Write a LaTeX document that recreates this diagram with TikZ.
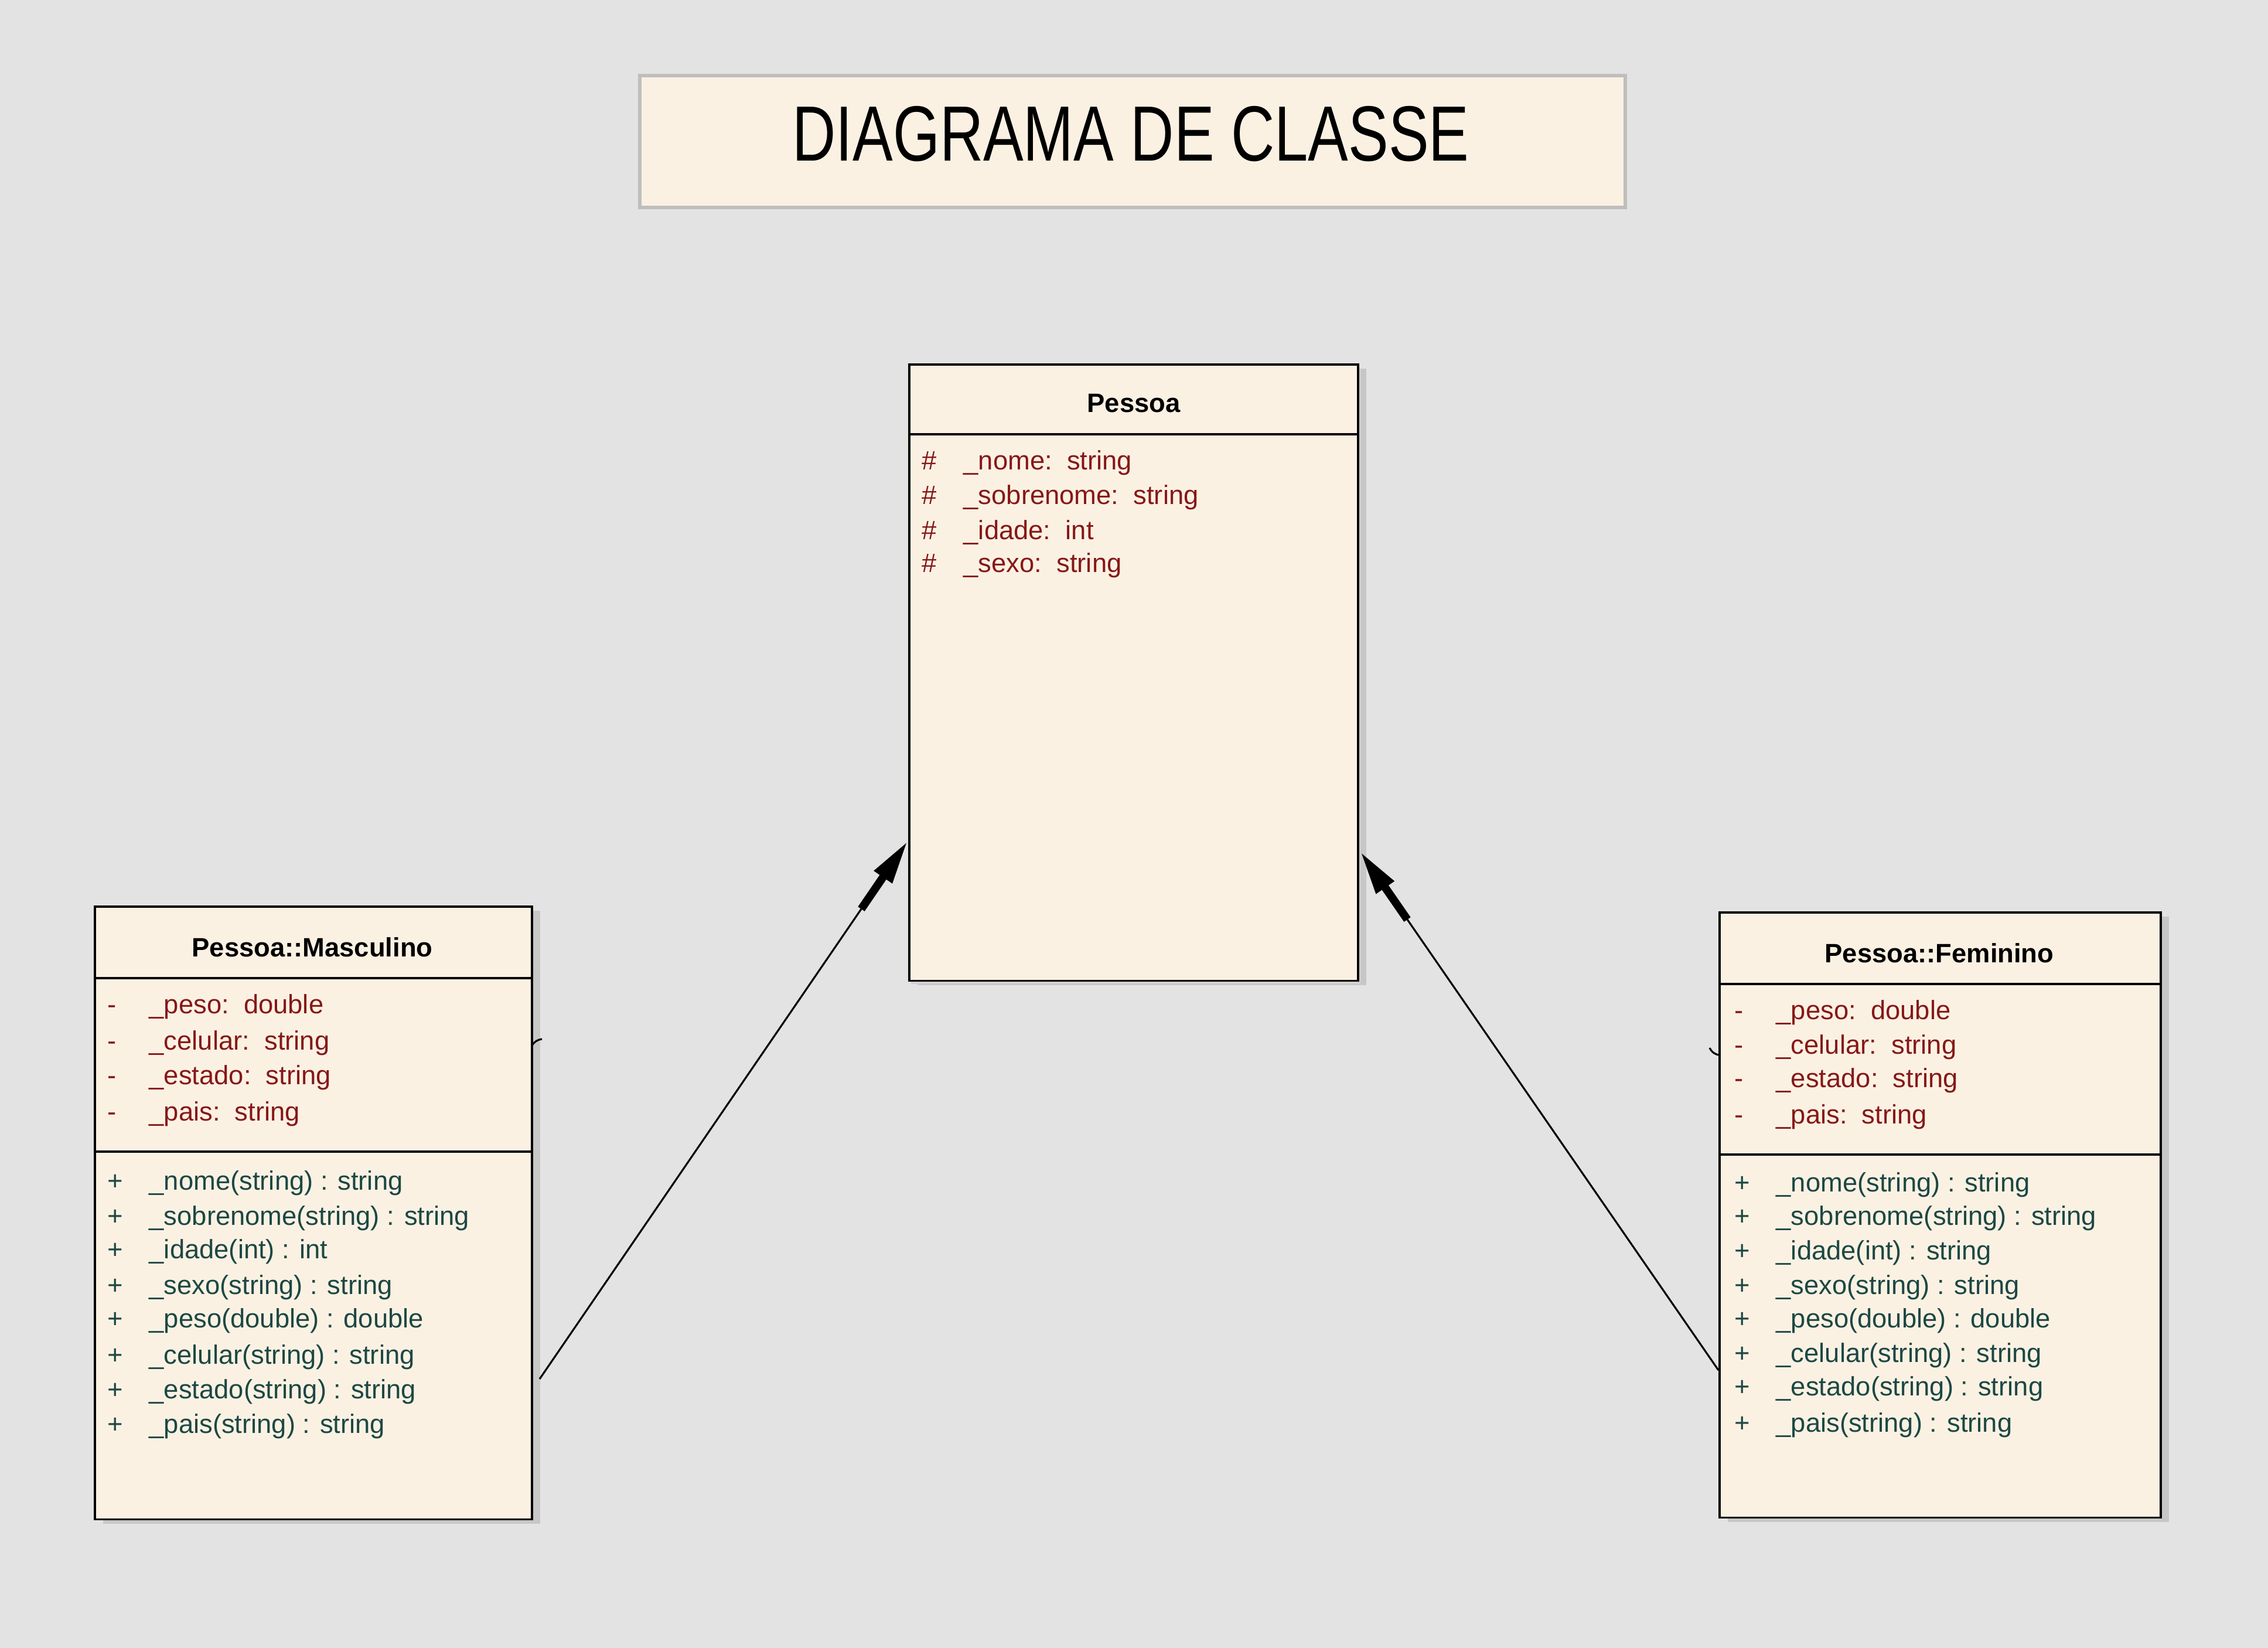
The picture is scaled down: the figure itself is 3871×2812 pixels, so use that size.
\documentclass[tikz,border=0pt]{standalone}
\usepackage{fontspec}
\setmainfont{Liberation Sans}
\usetikzlibrary{arrows.meta}
\usetikzlibrary{shadows}
\definecolor{fundo}{HTML}{E2E3E2}
\definecolor{creme}{HTML}{FBF1E3}
\definecolor{cinza}{HTML}{BEBEBC}
\definecolor{atributo}{HTML}{861818}
\definecolor{metodo}{HTML}{1C4844}
\tikzstyle{classe}=[draw, line width=1.1pt, fill=creme, anchor=north west, inner sep=0pt, drop shadow={shadow xshift=4pt, shadow yshift=-2pt, fill=black!22, opacity=1}]
\tikzstyle{nome}=[font=\fontsize{12.9}{15}\selectfont\bfseries]
\tikzstyle{membro}=[anchor=west, inner sep=0pt, text height=12.3pt, text depth=2.7pt, font=\fontsize{12.9}{15}\selectfont]
\tikzstyle{atrib}=[membro, text=atributo]
\tikzstyle{metod}=[membro, text=metodo]
\tikzstyle{divisa}=[draw=black, line width=1.1pt]
\tikzstyle{fio}=[draw=black, line width=0.9pt]
\tikzstyle{heranca}=[draw=black, line width=3.9pt, -{Triangle[length=7.6mm, width=3.4mm]}]
\newcommand{\simb}[1]{\makebox[0.71cm][l]{#1}}

\begin{document}
\begin{tikzpicture}[x=0.01cm, y=-0.01cm]
		   \fill [fundo] (0,0) rectangle (3871,2812);
		   \begin{scope}
			   % titulo
			   \node (quadro) at (1089,126)[anchor=north west, draw=cinza, line width=1.7pt, fill=creme, minimum width=16.81cm, minimum height=2.25cm] {};
			   \node (titulo) at (1930,228) {\fontsize{38}{40}\selectfont\scalebox{0.77}[1]{DIAGRAMA DE CLASSE}};
			   % classes
			   \node (pessoa) at (1550,620)[classe, minimum width=7.66cm, minimum height=10.51cm, drop shadow={shadow xshift=1pt, shadow yshift=-1.5pt, fill=black!18, opacity=1}] {};
			   \node (masc) at (160,1545)[classe, minimum width=7.46cm, minimum height=10.45cm] {};
			   \node (fem) at (2933,1555)[classe, minimum width=7.53cm, minimum height=10.32cm] {};
			   \node (pnome) at (1935,688)[nome] {Pessoa};
			   \node (mnome) at (533,1616)[nome] {Pessoa::Masculino};
			   \node (fnome) at (3310,1626)[nome] {Pessoa::Feminino};
			   % divisorias
			   \coordinate (p1a) at (1550,741);
			   \coordinate (p1b) at (2316,741);
			   \coordinate (m1a) at (160,1669);
			   \coordinate (m1b) at (906,1669);
			   \coordinate (m2a) at (160,1965);
			   \coordinate (m2b) at (906,1965);
			   \coordinate (f1a) at (2933,1679);
			   \coordinate (f1b) at (3686,1679);
			   \coordinate (f2a) at (2933,1970);
			   \coordinate (f2b) at (3686,1970);
			   % atributos de Pessoa
			   \node (pa1) at (1573,785)[atrib] {\simb{\#}\_nome:\ \ string};
			   \node (pa2) at (1573,844)[atrib] {\simb{\#}\_sobrenome:\ \ string};
			   \node (pa3) at (1573,904)[atrib] {\simb{\#}\_idade:\ \ int};
			   \node (pa4) at (1573,960)[atrib] {\simb{\#}\_sexo:\ \ string};
			   % Masculino
			   \node (ma1) at (183,1713)[atrib] {\simb{-}\_peso:\ \ double};
			   \node (ma2) at (183,1775)[atrib] {\simb{-}\_celular:\ \ string};
			   \node (ma3) at (183,1834)[atrib] {\simb{-}\_estado:\ \ string};
			   \node (ma4) at (183,1896)[atrib] {\simb{-}\_pais:\ \ string};
			   \node (mm1) at (183,2014)[metod] {\simb{+}\_nome(string) : string};
			   \node (mm2) at (183,2074)[metod] {\simb{+}\_sobrenome(string) : string};
			   \node (mm3) at (183,2131)[metod] {\simb{+}\_idade(int) : int};
			   \node (mm4) at (183,2192)[metod] {\simb{+}\_sexo(string) : string};
			   \node (mm5) at (183,2249)[metod] {\simb{+}\_peso(double) : double};
			   \node (mm6) at (183,2311)[metod] {\simb{+}\_celular(string) : string};
			   \node (mm7) at (183,2370)[metod] {\simb{+}\_estado(string) : string};
			   \node (mm8) at (183,2429)[metod] {\simb{+}\_pais(string) : string};
			   % Feminino
			   \node (fa1) at (2960,1723)[atrib] {\simb{-}\_peso:\ \ double};
			   \node (fa2) at (2960,1782)[atrib] {\simb{-}\_celular:\ \ string};
			   \node (fa3) at (2960,1839)[atrib] {\simb{-}\_estado:\ \ string};
			   \node (fa4) at (2960,1901)[atrib] {\simb{-}\_pais:\ \ string};
			   \node (fm1) at (2960,2017)[metod] {\simb{+}\_nome(string) : string};
			   \node (fm2) at (2960,2074)[metod] {\simb{+}\_sobrenome(string) : string};
			   \node (fm3) at (2960,2133)[metod] {\simb{+}\_idade(int) : string};
			   \node (fm4) at (2960,2192)[metod] {\simb{+}\_sexo(string) : string};
			   \node (fm5) at (2960,2249)[metod] {\simb{+}\_peso(double) : double};
			   \node (fm6) at (2960,2308)[metod] {\simb{+}\_celular(string) : string};
			   \node (fm7) at (2960,2365)[metod] {\simb{+}\_estado(string) : string};
			   \node (fm8) at (2960,2427)[metod] {\simb{+}\_pais(string) : string};
			   % pontos das setas
			   \coordinate (mcauda) at (921,2353);
			   \coordinate (mgrosso) at (1470,1551);
			   \coordinate (mponta) at (1550,1434);
			   \coordinate (fcauda) at (2933,2338);
			   \coordinate (fgrosso) at (2402,1569);
			   \coordinate (fponta) at (2321,1452);
			   \coordinate (mresto1) at (908,1784);
			   \coordinate (mresto2) at (925,1773);
			   \coordinate (fresto1) at (2918,1788);
			   \coordinate (fresto2) at (2933,1800);
		   \end{scope}
		   \begin{scope}
			   \path [divisa] (p1a) edge (p1b);
			   \path [divisa] (m1a) edge (m1b);
			   \path [divisa] (m2a) edge (m2b);
			   \path [divisa] (f1a) edge (f1b);
			   \path [divisa] (f2a) edge (f2b);
			   \path [fio] (mcauda) edge (mgrosso);
			   \draw [heranca] (mgrosso) -- (mponta);
			   \path [fio] (fcauda) edge (fgrosso);
			   \draw [heranca] (fgrosso) -- (fponta);
			   \path [fio] (mresto1) edge[bend left=25] (mresto2);
			   \path [fio] (fresto1) edge[bend right=25] (fresto2);
		   \end{scope}
	   \end{tikzpicture}
\end{document}
